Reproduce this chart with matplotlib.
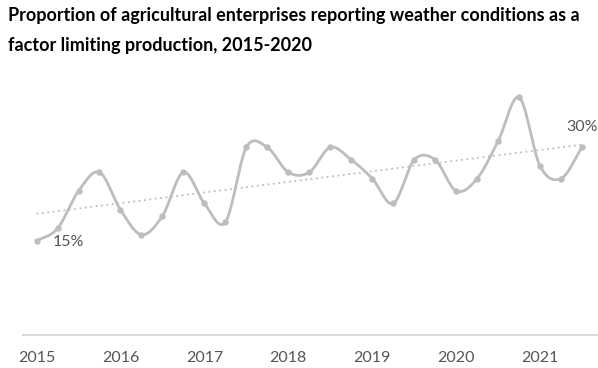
import numpy as np
import matplotlib.pyplot as plt

# quarterly share of enterprises (%), 2015 Q1 .. 2021 Q3
quarters = np.arange(27) / 4 + 2015
share = [15, 17, 23, 26, 20, 16, 19, 26, 21, 18, 30, 30, 26, 26,
         30, 28, 25, 21, 28, 28, 23, 25, 31, 38, 27, 25, 30]
years = [2015, 2016, 2017, 2018, 2019, 2020, 2021]

title_lines = ["Proportion of agricultural enterprises reporting weather conditions as a",
               "factor limiting production, 2015-2020"]


def catmull_rom(x, y, n=20):
    x = np.asarray(x, float)
    y = np.asarray(y, float)
    px = np.concatenate([[2 * x[0] - x[1]], x, [2 * x[-1] - x[-2]]])
    py = np.concatenate([[2 * y[0] - y[1]], y, [2 * y[-1] - y[-2]]])
    xs, ys = [], []
    t = np.linspace(0, 1, n, endpoint=False)
    for i in range(1, len(px) - 2):
        p0, p1, p2, p3 = py[i - 1], py[i], py[i + 1], py[i + 2]
        ys.append(0.5 * (2 * p1 + (-p0 + p2) * t + (2 * p0 - 5 * p1 + 4 * p2 - p3) * t ** 2
                         + (-p0 + 3 * p1 - 3 * p2 + p3) * t ** 3))
        xs.append(px[i] + (px[i + 1] - px[i]) * t)
    xs.append([x[-1]])
    ys.append([y[-1]])
    return np.concatenate(xs), np.concatenate(ys)


fig = plt.figure(figsize=(5.98, 3.68), dpi=100)
ax = fig.add_axes([22.7 / 598, 1 - 334.5 / 368, (598 - 22.7) / 598, (334.5 - 60) / 368])

grey = '#bdbdbd'
sx, sy = catmull_rom(quarters, share)
ax.plot(sx, sy, color=grey, lw=2, solid_capstyle='round')
ax.plot(quarters, share, 'o', color=grey, ms=3.6)

k, b = np.polyfit(quarters, share, 1)
ax.plot(quarters[[0, -1]], k * quarters[[0, -1]] + b, color=grey, lw=1.3, ls=(0, (1, 2)))

ax.text(quarters[0] + 0.19, share[0] - 0.2, '15%', fontsize=11.5, color='#555555',
        family='Lato', va='center')
ax.text(quarters[-1], share[-1] + 3.2, '30%', fontsize=11.5, color='#555555',
        family='Lato', ha='center', va='center')

ax.set_xlim(2014.835, 2021.69)
ax.set_ylim(0, 44)
ax.set_xticks(years)
ax.set_xticklabels([str(y) for y in years], fontsize=11.5, color='#555555', family='Lato')
ax.tick_params(axis='x', length=0, pad=12)
ax.set_yticks([])
for s in ['top', 'right', 'left']:
    ax.spines[s].set_visible(False)
ax.spines['bottom'].set_color('#d9d9d9')
ax.spines['bottom'].set_linewidth(1.5)

for line, base in zip(title_lines, [21, 51]):
    fig.text(8 / 598, 1 - base / 368, line, fontsize=13, fontweight='bold', family='Lato',
             va='baseline', ha='left')

fig.savefig('out.png', dpi=100)
